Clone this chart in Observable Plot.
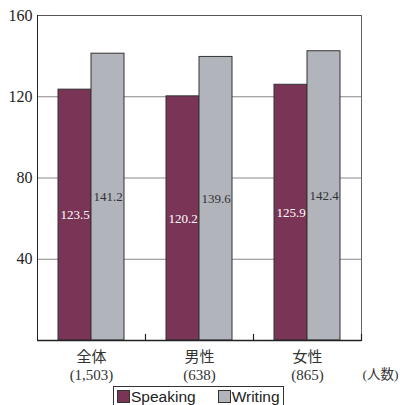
<!DOCTYPE html>
<html><head><meta charset="utf-8">
<script src="https://cdn.jsdelivr.net/npm/d3@7"></script>
<script src="https://cdn.jsdelivr.net/npm/@observablehq/plot@0.6"></script>
<style>
body{margin:0;background:#fff;}
#legend{position:relative;margin-left:113px;width:171px;height:20px;border:1px solid #333;border-bottom:none;box-sizing:border-box;font-family:"Liberation Sans",Arial,sans-serif;font-size:15.5px;color:#222;display:flex;align-items:center;padding-left:3px;line-height:1;}
#legend .sw{display:inline-block;width:11px;height:11px;border:1px solid #333;margin-right:1px;}
#legend .it{display:flex;align-items:center;margin-right:22px;}
</style>
</head><body>
<div id="chart"></div>
<script>
const groups = ["全体", "男性", "女性"];
const groupCounts = ["(1,503)", "(638)", "(865)"];
const series = ["Speaking", "Writing"];
const speaking = [123.5, 120.2, 125.9];
const writing = [141.2, 139.6, 142.4];
const colors = ["#7a3456", "#b2b4bc"];
const yTicks = [40, 80, 120, 160];
const gridTicks = [40, 80, 120];
const unitLabel = "(人数)";

const data = [];
groups.forEach((g, i) => {
  data.push({group: g, series: "Speaking", value: speaking[i]});
  data.push({group: g, series: "Writing", value: writing[i]});
});
const labelOf = Object.fromEntries(groups.map((g, i) => [g, g + "\n" + groupCounts[i]]));
const serif = "'Liberation Serif','Times New Roman','Noto Sans CJK JP',serif";

const chart = Plot.plot({
  width: 400,
  height: 386,
  marginLeft: 37,
  marginRight: 39,
  marginTop: 15,
  marginBottom: 46,
  style: {background: "#fff", overflow: "visible"},
  fx: {domain: groups, padding: 0, axis: null, label: null},
  x: {domain: series, paddingInner: 0, paddingOuter: 0.636, axis: null, label: null},
  y: {domain: [0, 160], axis: null, label: null},
  color: {domain: series, range: colors},
  marks: [
    Plot.ruleY(gridTicks, {stroke: "#888", strokeWidth: 1}),
    Plot.frame({anchor: "top", stroke: "#555"}),
    Plot.frame({anchor: "right", facetAnchor: "right", stroke: "#666"}),
    Plot.frame({anchor: "right", insetTop: 319, stroke: "#222", strokeWidth: 1.2}),
    Plot.barY(data, {fx: "group", x: "series", y: "value", fill: "series", stroke: "#333", strokeWidth: 1}),
    Plot.text(data.filter(d => d.series === "Speaking"), {fx: "group", x: "series", y: d => d.value / 2, text: d => d.value.toFixed(1), fill: "#fff", fontSize: 13, fontFamily: serif}),
    Plot.text(data.filter(d => d.series === "Writing"), {fx: "group", x: "series", y: d => d.value / 2, text: d => d.value.toFixed(1), fill: "#333", fontSize: 13, fontFamily: serif}),
    Plot.frame({anchor: "left", facetAnchor: "left", stroke: "#222"}),
    Plot.ruleY([0], {stroke: "#222", strokeWidth: 1.5}),
    Plot.axisY({ticks: yTicks, tickSize: 0, tickPadding: 5, fontSize: 16, fontFamily: serif, color: "#222", label: null}),
    Plot.axisFx({anchor: "bottom", tickSize: 0, tickPadding: 9, fontSize: 15, lineHeight: 1.2, fontFamily: serif, color: "#333", label: null, tickFormat: d => labelOf[d]}),
    Plot.text([unitLabel], {frameAnchor: "bottom-right", facetAnchor: "right", textAnchor: "start", dx: 1, dy: 38, fontSize: 13.5, fontFamily: serif, fill: "#333"})
  ]
});
document.getElementById("chart").appendChild(chart);

const legend = document.createElement("div");
legend.id = "legend";
series.forEach((s, i) => {
  const it = document.createElement("span");
  it.className = "it";
  const sw = document.createElement("span");
  sw.className = "sw";
  sw.style.background = colors[i];
  it.appendChild(sw);
  it.appendChild(document.createTextNode(s));
  legend.appendChild(it);
});
document.body.appendChild(legend);
</script>
</body></html>
